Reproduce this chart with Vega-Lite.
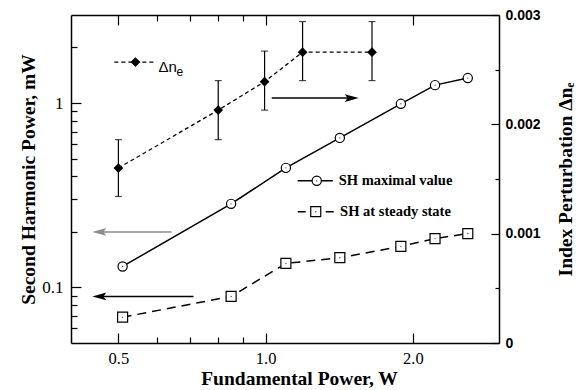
{
  "$schema": "https://vega.github.io/schema/vega-lite/v6.json",
  "width": 428,
  "height": 328,
  "autosize": {"type": "none"},
  "padding": {"left": 71, "top": 15, "right": 82, "bottom": 47},
  "background": "white",
  "config": {
    "view": {"stroke": null},
    "axis": {"grid": false, "domainColor": "black", "tickColor": "black", "domainWidth": 1.5, "tickWidth": 1.2, "labelColor": "black", "titleColor": "black"}
  },
  "datasets": {
    "smax": [
      {"x": 0.51, "y": 0.13}, {"x": 0.85, "y": 0.284}, {"x": 1.1, "y": 0.445}, {"x": 1.418, "y": 0.647},
      {"x": 1.89, "y": 0.99}, {"x": 2.22, "y": 1.25}, {"x": 2.59, "y": 1.365}
    ],
    "ssteady": [
      {"x": 0.51, "y": 0.069}, {"x": 0.85, "y": 0.0894}, {"x": 1.1, "y": 0.135}, {"x": 1.418, "y": 0.145},
      {"x": 1.89, "y": 0.167}, {"x": 2.22, "y": 0.184}, {"x": 2.59, "y": 0.196}
    ],
    "dn": [
      {"x": 0.5, "dn": 0.0016, "lo": 0.00134, "hi": 0.00186},
      {"x": 0.8, "dn": 0.00213, "lo": 0.00186, "hi": 0.0024},
      {"x": 0.995, "dn": 0.00239, "lo": 0.00213, "hi": 0.00267},
      {"x": 1.19, "dn": 0.00266, "lo": 0.0024, "hi": 0.00294},
      {"x": 1.65, "dn": 0.00266, "lo": 0.0024, "hi": 0.00294}
    ],
    "arrows": [
      {"x": 1.029, "x2": 1.5, "y": 1.064, "dir": "right", "tone": "dark"},
      {"x": 0.642, "x2": 0.457, "y": 0.2, "dir": "left", "tone": "light"},
      {"x": 0.712, "x2": 0.457, "y": 0.0894, "dir": "left", "tone": "dark"}
    ],
    "leg": [
      {"series": "max", "x": 1.163, "x2": 1.372, "xm": 1.272, "xt": 1.411, "y": 0.379, "label": "SH  maximal  value"},
      {"series": "steady", "x": 1.163, "x2": 1.385, "xm": 1.266, "xt": 1.42, "y": 0.2576, "label": "SH  at  steady  state"}
    ],
    "dnleg": [
      {"x": 0.4906, "x2": 0.598, "xm": 0.5417, "xt": 0.604, "dn": 0.002569, "label": "Δn", "sub": "e"}
    ]
  },
  "layer": [
    {
      "data": {"name": "smax"},
      "mark": {"type": "line", "color": "black", "strokeWidth": 1.5},
      "encoding": {
        "x": {"field": "x", "type": "quantitative", "scale": {"type": "log", "domain": [0.4, 3], "nice": false},
          "axis": {"orient": "bottom", "values": [0.5, 1, 2], "format": ".1f", "tickSize": -10, "labelPadding": 17,
            "labelFont": "Liberation Serif", "labelFontSize": 16.5, "title": "Fundamental  Power,  W",
            "titleFont": "Liberation Serif", "titleFontSize": 19.5, "titleFontWeight": "bold", "titlePadding": 3, "titleX": 228}},
        "y": {"field": "y", "type": "quantitative", "scale": {"type": "log", "domain": [0.05, 3], "nice": false},
          "axis": {"orient": "left", "values": [0.1, 1], "format": "~g", "tickSize": -10, "labelPadding": 18,
            "labelFont": "Liberation Serif", "labelFontSize": 17, "title": "Second  Harmonic  Power,  mW",
            "titleFont": "Liberation Serif", "titleFontSize": 19.5, "titleFontWeight": "bold", "titlePadding": 3}}
      }
    },
    {
      "data": {"name": "ssteady"},
      "mark": {"type": "line", "color": "black", "strokeWidth": 1.5, "strokeDash": [9, 6]},
      "encoding": {
        "x": {"field": "x", "type": "quantitative", "scale": {"type": "log", "domain": [0.4, 3], "nice": false},
          "axis": {"orient": "bottom", "values": [0.6, 0.7, 0.8, 0.9], "tickSize": -6, "labels": false, "title": null, "domain": false}},
        "y": {"field": "y", "type": "quantitative", "scale": {"type": "log", "domain": [0.05, 3], "nice": false},
          "axis": {"orient": "left", "values": [0.06, 0.07, 0.08, 0.09, 0.2, 0.3, 0.4, 0.5, 0.6, 0.7, 0.8, 0.9, 2], "tickSize": -6, "labels": false, "title": null, "domain": false}}
      }
    },
    {
      "data": {"name": "smax"},
      "mark": {"type": "point", "shape": "circle", "filled": true, "fill": "white", "stroke": "black", "strokeWidth": 1.2, "size": 85, "opacity": 1},
      "encoding": {
        "x": {"field": "x", "type": "quantitative", "scale": {"type": "log", "domain": [0.4, 3], "nice": false},
          "axis": {"orient": "top", "values": [0.5, 1, 2], "tickSize": -10, "labels": false, "title": null}},
        "y": {"field": "y", "type": "quantitative", "scale": {"type": "log", "domain": [0.05, 3], "nice": false}, "axis": null}
      }
    },
    {
      "data": {"name": "ssteady"},
      "mark": {"type": "point", "shape": "square", "filled": true, "fill": "white", "stroke": "black", "strokeWidth": 1.2, "size": 100, "opacity": 1},
      "encoding": {
        "x": {"field": "x", "type": "quantitative", "scale": {"type": "log", "domain": [0.4, 3], "nice": false},
          "axis": {"orient": "top", "values": [0.6, 0.7, 0.8, 0.9], "tickSize": -6, "labels": false, "title": null, "domain": false}},
        "y": {"field": "y", "type": "quantitative", "scale": {"type": "log", "domain": [0.05, 3], "nice": false}, "axis": null}
      }
    },
    {
      "data": {"name": "smax"},
      "mark": {"type": "point", "shape": "circle", "filled": true, "color": "#555", "size": 2, "opacity": 1},
      "encoding": {
        "x": {"field": "x", "type": "quantitative", "scale": {"type": "log", "domain": [0.4, 3], "nice": false}, "axis": null},
        "y": {"field": "y", "type": "quantitative", "scale": {"type": "log", "domain": [0.05, 3], "nice": false}, "axis": null}
      }
    },
    {
      "data": {"name": "ssteady"},
      "mark": {"type": "point", "shape": "circle", "filled": true, "color": "#555", "size": 2, "opacity": 1},
      "encoding": {
        "x": {"field": "x", "type": "quantitative", "scale": {"type": "log", "domain": [0.4, 3], "nice": false}, "axis": null},
        "y": {"field": "y", "type": "quantitative", "scale": {"type": "log", "domain": [0.05, 3], "nice": false}, "axis": null}
      }
    },
    {
      "data": {"name": "dn"},
      "mark": {"type": "line", "color": "black", "strokeWidth": 1.3, "strokeDash": [4, 3]},
      "encoding": {
        "x": {"field": "x", "type": "quantitative", "scale": {"type": "log", "domain": [0.4, 3], "nice": false}, "axis": null},
        "y": {"field": "dn", "type": "quantitative", "scale": {"type": "linear", "domain": [0, 0.003], "nice": false},
          "axis": {"orient": "right", "values": [0, 0.001, 0.002, 0.003], "format": "~g", "tickSize": -8, "labelPadding": 14,
            "labelFont": "Liberation Sans", "labelFontWeight": "bold", "labelFontSize": 14,
            "title": "Index  Perturbation  Δnₑ", "titleFont": "Liberation Serif", "titleFontSize": 19.5, "titleFontWeight": "bold",
            "titleAngle": 270, "titleBaseline": "top", "titlePadding": 16}}
      }
    },
    {
      "data": {"name": "dn"},
      "mark": {"type": "rule", "color": "black", "strokeWidth": 1.2},
      "encoding": {
        "x": {"field": "x", "type": "quantitative", "scale": {"type": "log", "domain": [0.4, 3], "nice": false}, "axis": null},
        "y": {"field": "lo", "type": "quantitative", "scale": {"type": "linear", "domain": [0, 0.003], "nice": false}, "axis": null},
        "y2": {"field": "hi"}
      }
    },
    {
      "data": {"name": "dn"},
      "mark": {"type": "tick", "orient": "horizontal", "color": "black", "thickness": 1.2, "size": 7},
      "encoding": {
        "x": {"field": "x", "type": "quantitative", "scale": {"type": "log", "domain": [0.4, 3], "nice": false}, "axis": null},
        "y": {"field": "lo", "type": "quantitative", "scale": {"type": "linear", "domain": [0, 0.003], "nice": false}, "axis": null}
      }
    },
    {
      "data": {"name": "dn"},
      "mark": {"type": "tick", "orient": "horizontal", "color": "black", "thickness": 1.2, "size": 7},
      "encoding": {
        "x": {"field": "x", "type": "quantitative", "scale": {"type": "log", "domain": [0.4, 3], "nice": false}, "axis": null},
        "y": {"field": "hi", "type": "quantitative", "scale": {"type": "linear", "domain": [0, 0.003], "nice": false}, "axis": null}
      }
    },
    {
      "data": {"name": "dn"},
      "mark": {"type": "point", "shape": "diamond", "filled": true, "color": "black", "size": 95, "opacity": 1},
      "encoding": {
        "x": {"field": "x", "type": "quantitative", "scale": {"type": "log", "domain": [0.4, 3], "nice": false}, "axis": null},
        "y": {"field": "dn", "type": "quantitative", "scale": {"type": "linear", "domain": [0, 0.003], "nice": false},
          "axis": {"orient": "right", "values": [0.0005, 0.0015, 0.0025], "tickSize": -4, "labels": false, "title": null, "domain": false}}
      }
    },
    {
      "data": {"name": "arrows"},
      "mark": {"type": "rule", "strokeWidth": 1.5},
      "encoding": {
        "x": {"field": "x", "type": "quantitative", "scale": {"type": "log", "domain": [0.4, 3], "nice": false}, "axis": null},
        "x2": {"field": "x2"},
        "y": {"field": "y", "type": "quantitative", "scale": {"type": "log", "domain": [0.05, 3], "nice": false}, "axis": null},
        "color": {"field": "tone", "type": "nominal", "scale": {"domain": ["dark", "light"], "range": ["black", "#8c8c8c"]}, "legend": null}
      }
    },
    {
      "data": {"name": "arrows"},
      "mark": {"type": "point", "filled": true, "size": 196, "opacity": 1, "strokeWidth": 0},
      "encoding": {
        "x": {"field": "x2", "type": "quantitative", "scale": {"type": "log", "domain": [0.4, 3], "nice": false}, "axis": null},
        "y": {"field": "y", "type": "quantitative", "scale": {"type": "log", "domain": [0.05, 3], "nice": false}, "axis": null},
        "color": {"field": "tone", "type": "nominal", "scale": {"domain": ["dark", "light"], "range": ["black", "#8c8c8c"]}, "legend": null},
        "shape": {"field": "dir", "type": "nominal", "scale": {"domain": ["right", "left"], "range": ["M1,0L-1,-0.55L-0.6,0L-1,0.55Z", "M-1,0L1,-0.55L0.6,0L1,0.55Z"]}, "legend": null}
      }
    },
    {
      "data": {"name": "leg"},
      "transform": [{"filter": "datum.series === 'max'"}],
      "mark": {"type": "rule", "color": "black", "strokeWidth": 1.5},
      "encoding": {
        "x": {"field": "x", "type": "quantitative", "scale": {"type": "log", "domain": [0.4, 3], "nice": false}, "axis": null},
        "x2": {"field": "x2"},
        "y": {"field": "y", "type": "quantitative", "scale": {"type": "log", "domain": [0.05, 3], "nice": false}, "axis": null}
      }
    },
    {
      "data": {"name": "leg"},
      "transform": [{"filter": "datum.series === 'steady'"}],
      "mark": {"type": "rule", "color": "black", "strokeWidth": 1.5, "strokeDash": [8, 6]},
      "encoding": {
        "x": {"field": "x", "type": "quantitative", "scale": {"type": "log", "domain": [0.4, 3], "nice": false}, "axis": null},
        "x2": {"field": "x2"},
        "y": {"field": "y", "type": "quantitative", "scale": {"type": "log", "domain": [0.05, 3], "nice": false}, "axis": null}
      }
    },
    {
      "data": {"name": "leg"},
      "transform": [{"filter": "datum.series === 'max'"}],
      "mark": {"type": "point", "shape": "circle", "filled": true, "fill": "white", "stroke": "black", "strokeWidth": 1.2, "size": 85, "opacity": 1},
      "encoding": {
        "x": {"field": "xm", "type": "quantitative", "scale": {"type": "log", "domain": [0.4, 3], "nice": false}, "axis": null},
        "y": {"field": "y", "type": "quantitative", "scale": {"type": "log", "domain": [0.05, 3], "nice": false}, "axis": null}
      }
    },
    {
      "data": {"name": "leg"},
      "transform": [{"filter": "datum.series === 'steady'"}],
      "mark": {"type": "point", "shape": "square", "filled": true, "fill": "white", "stroke": "black", "strokeWidth": 1.2, "size": 100, "opacity": 1},
      "encoding": {
        "x": {"field": "xm", "type": "quantitative", "scale": {"type": "log", "domain": [0.4, 3], "nice": false}, "axis": null},
        "y": {"field": "y", "type": "quantitative", "scale": {"type": "log", "domain": [0.05, 3], "nice": false}, "axis": null}
      }
    },
    {
      "data": {"name": "leg"},
      "mark": {"type": "point", "shape": "circle", "filled": true, "color": "#555", "size": 2, "opacity": 1},
      "encoding": {
        "x": {"field": "xm", "type": "quantitative", "scale": {"type": "log", "domain": [0.4, 3], "nice": false}, "axis": null},
        "y": {"field": "y", "type": "quantitative", "scale": {"type": "log", "domain": [0.05, 3], "nice": false}, "axis": null}
      }
    },
    {
      "data": {"name": "leg"},
      "mark": {"type": "text", "align": "left", "baseline": "middle", "font": "Liberation Serif", "fontWeight": "bold", "fontSize": 14.5, "color": "black"},
      "encoding": {
        "x": {"field": "xt", "type": "quantitative", "scale": {"type": "log", "domain": [0.4, 3], "nice": false}, "axis": null},
        "y": {"field": "y", "type": "quantitative", "scale": {"type": "log", "domain": [0.05, 3], "nice": false}, "axis": null},
        "text": {"field": "label"}
      }
    },
    {
      "data": {"name": "dnleg"},
      "mark": {"type": "rule", "color": "black", "strokeWidth": 1.3, "strokeDash": [4, 3]},
      "encoding": {
        "x": {"field": "x", "type": "quantitative", "scale": {"type": "log", "domain": [0.4, 3], "nice": false}, "axis": null},
        "x2": {"field": "x2"},
        "y": {"field": "dn", "type": "quantitative", "scale": {"type": "linear", "domain": [0, 0.003], "nice": false}, "axis": null}
      }
    },
    {
      "data": {"name": "dnleg"},
      "mark": {"type": "point", "shape": "diamond", "filled": true, "color": "black", "size": 95, "opacity": 1},
      "encoding": {
        "x": {"field": "xm", "type": "quantitative", "scale": {"type": "log", "domain": [0.4, 3], "nice": false}, "axis": null},
        "y": {"field": "dn", "type": "quantitative", "scale": {"type": "linear", "domain": [0, 0.003], "nice": false}, "axis": null}
      }
    },
    {
      "data": {"name": "dnleg"},
      "mark": {"type": "text", "align": "left", "baseline": "middle", "font": "Liberation Sans", "fontSize": 15, "dy": 5, "color": "black"},
      "encoding": {
        "x": {"field": "xt", "type": "quantitative", "scale": {"type": "log", "domain": [0.4, 3], "nice": false}, "axis": null},
        "y": {"field": "dn", "type": "quantitative", "scale": {"type": "linear", "domain": [0, 0.003], "nice": false}, "axis": null},
        "text": {"field": "label"}
      }
    },
    {
      "data": {"name": "dnleg"},
      "mark": {"type": "text", "align": "left", "baseline": "middle", "font": "Liberation Sans", "fontSize": 12, "dx": 18, "dy": 10, "color": "black"},
      "encoding": {
        "x": {"field": "xt", "type": "quantitative", "scale": {"type": "log", "domain": [0.4, 3], "nice": false}, "axis": null},
        "y": {"field": "dn", "type": "quantitative", "scale": {"type": "linear", "domain": [0, 0.003], "nice": false}, "axis": null},
        "text": {"field": "sub"}
      }
    }
  ],
  "resolve": {"scale": {"y": "independent"}, "axis": {"x": "independent", "y": "independent"}}
}
